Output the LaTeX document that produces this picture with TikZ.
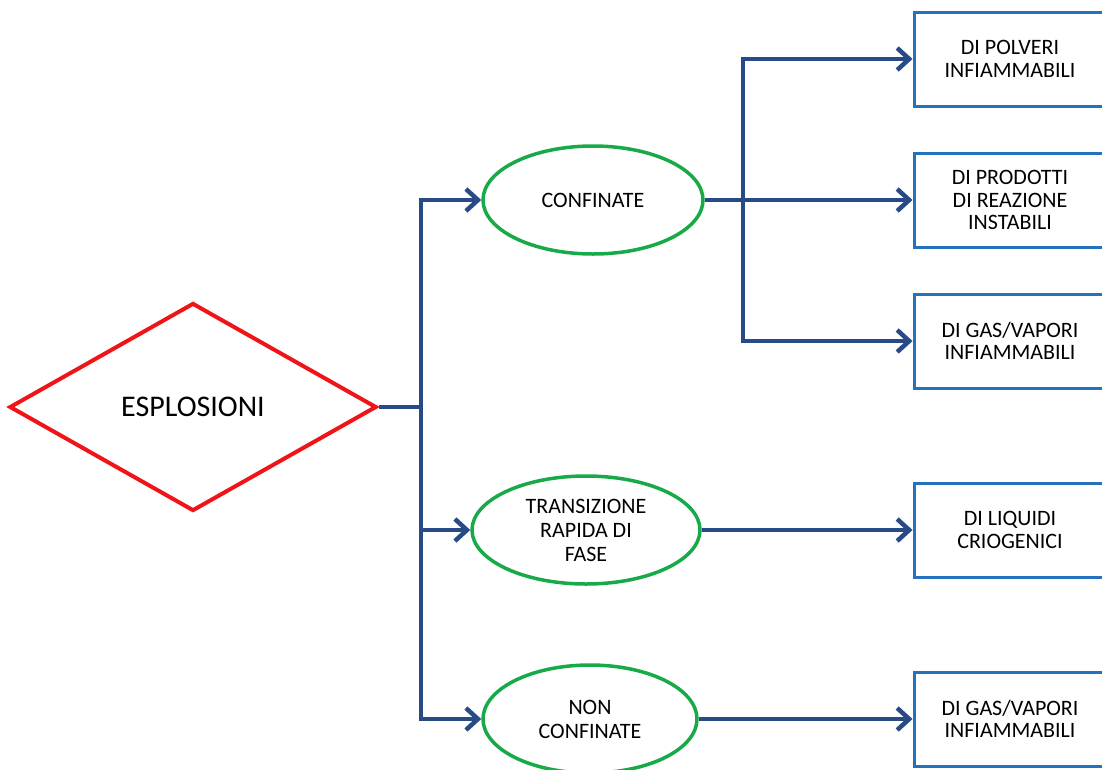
\documentclass[tikz,border=0pt]{standalone}
\usepackage{fontspec}
\setmainfont{Carlito}
\usetikzlibrary{positioning, shapes.geometric, arrows.meta}
\definecolor{linkblue}{RGB}{40,74,134}
\definecolor{boxblue}{RGB}{36,114,189}
\definecolor{ovalgreen}{RGB}{24,170,72}
\definecolor{diamred}{RGB}{240,20,25}
\tikzset{
decision/.style={draw=diamred, diamond, line width=4pt, minimum width=367pt, minimum height=208pt, inner sep=0pt, font=\fontsize{30}{34}\selectfont},
kind/.style={draw=ovalgreen, ellipse, line width=3.5pt, minimum width=220pt, minimum height=108pt, inner sep=0pt, align=center, font=\fontsize{22}{24}\selectfont},
leaf/.style={draw=boxblue, rectangle, line width=3pt, minimum width=192pt, minimum height=94pt, align=center, font=\fontsize{22}{22.5}\selectfont},
link/.style={draw=linkblue, line width=4.5pt},
flow/.style={link, -{Straight Barb[length=12pt,width=22pt]}},
}

\begin{document}
\begin{tikzpicture}[x=1pt, y=-1pt]
    \useasboundingbox (0,0) rectangle (1102,769);

    \node[decision] (esp) at (193,407) {ESPLOSIONI};

    %kinds
    \node[kind] (conf) at (593,200) {CONFINATE};
    \node[kind, minimum width=228pt] (trans) at (586,530) {TRANSIZIONE\\RAPIDA DI\\FASE};
    \node[kind, minimum width=214pt] (nonc) at (590,719) {NON\\CONFINATE};

    %leaves
    \node[leaf] (polv) at (1010,59) {DI POLVERI\\INFIAMMABILI};
    \node[leaf] (prod) at (1010,200) {DI PRODOTTI\\DI REAZIONE\\INSTABILI};
    \node[leaf] (gas1) at (1010,341) {DI GAS/VAPORI\\INFIAMMABILI};
    \node[leaf] (liq) at (1010,530) {DI LIQUIDI\\CRIOGENICI};
    \node[leaf] (gas2) at (1010,719) {DI GAS/VAPORI\\INFIAMMABILI};

    \coordinate (j1) at (421,407);
    \coordinate (j2) at (743,200);

    \draw[link] (esp.east) -- (j1);
    \draw[flow] (j1) |- (conf.west);
    \draw[flow] (j1) |- (trans.west);
    \draw[flow] (j1) |- (nonc.west);

    \draw[flow] (conf.east) -- (prod.west);
    \draw[flow] (j2) |- (polv.west);
    \draw[flow] (j2) |- (gas1.west);

    \draw[flow] (trans.east) -- (liq.west);
    \draw[flow] (nonc.east) -- (gas2.west);
\end{tikzpicture}
\end{document}
